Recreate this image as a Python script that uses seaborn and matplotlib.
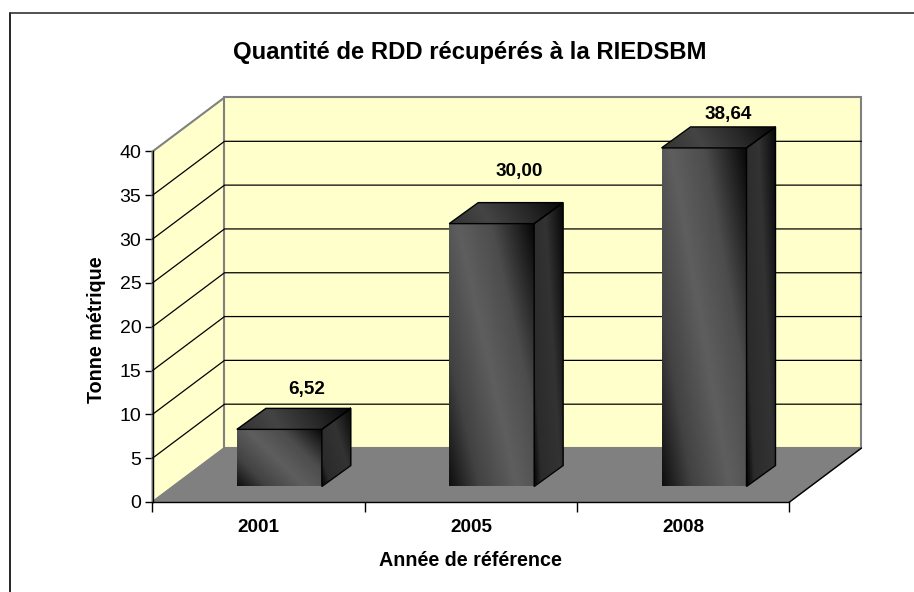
import numpy as np
import matplotlib
matplotlib.use("Agg")
import matplotlib.pyplot as plt
import seaborn as sns
from matplotlib.lines import Line2D
from matplotlib.patches import Polygon
from matplotlib.transforms import Affine2D, IdentityTransform

years = ["2001", "2005", "2008"]
tonnes = [6.52, 30.00, 38.64]
y_ticks = [0, 5, 10, 15, 20, 25, 30, 35, 40]

W, H = 914, 592
FONT = "Liberation Sans"

# 3d look, in pixels
WALL_DX, WALL_DY = 72, 54
BAR_DX, BAR_DY = 20.7, 15.5
SIDE_DX, SIDE_DY = 29, 21
label_shift = [(27, 40), (28, 52), (24, 33)]

sns.set_theme(style="white")
plt.rcParams["font.family"] = [FONT, "DejaVu Sans"]

fig = plt.figure(figsize=(W / 100, H / 100), dpi=100)
ax = fig.add_axes([152.5 / W, (H - 502) / H, 637 / W, 350.5 / H])
ax.patch.set_alpha(0)

sns.barplot(x=years, y=tonnes, width=0.4, color="black", ax=ax)
ax.set_xlim(-0.5, 2.5)
ax.set_ylim(0, 40)


def px(x, y, dx=0, dy=0):
    p = ax.transData.transform((x, y))
    return np.array([p[0] + dx, p[1] + dy])


def poly(points, face, edge, lw=1.0, z=1):
    ax.add_patch(Polygon(points, closed=True, facecolor=face, edgecolor=edge, linewidth=lw,
                         transform=IdentityTransform(), clip_on=False, zorder=z))


def shade(p0, pu, pv, slant, stops, levels, z):
    # gradient on a parallelogram, p0 = lower left
    uu, vv = np.meshgrid(np.linspace(0, 1, 80), np.linspace(0, 1, 80))
    img = np.interp(uu + slant * vv, stops, levels)
    a, b = pu - p0
    c, d = pv - p0
    aff = Affine2D.from_values(a, b, c, d, p0[0], p0[1])
    ax.imshow(img, extent=(0, 1, 0, 1), origin="lower", cmap="gray", vmin=0, vmax=1,
              transform=aff, aspect="auto", interpolation="bilinear", clip_on=False, zorder=z)


bars = list(ax.patches)

# walls and floor
x0, x1 = -0.5, 2.5
poly([px(x0, 0), px(x0, 40), px(x0, 40, WALL_DX, WALL_DY), px(x0, 0, WALL_DX, WALL_DY)], "#ffffcc", "#808080", 1.5)
poly([px(x0, 0, WALL_DX, WALL_DY), px(x0, 40, WALL_DX, WALL_DY), px(x1, 40, WALL_DX, WALL_DY), px(x1, 0, WALL_DX, WALL_DY)],
     "#ffffcc", "#808080", 1.5)
poly([px(x0, 0), px(x1, 0), px(x1, 0, WALL_DX, WALL_DY), px(x0, 0, WALL_DX, WALL_DY)], "#808080", "#808080", 1.0, 1.2)
ax.add_line(Line2D(*zip(px(x1, 0), px(x1, 0, WALL_DX, WALL_DY)), color="black", lw=1.0,
                   transform=IdentityTransform(), clip_on=False, zorder=1.5))

# gridlines, the top one is the gray wall edge
for t in y_ticks[1:-1]:
    pts = [px(x0, t), px(x0, t, WALL_DX, WALL_DY), px(x1, t, WALL_DX, WALL_DY)]
    ax.add_line(Line2D(*zip(*pts), color="black", lw=0.9, transform=IdentityTransform(),
                       clip_on=False, zorder=1.1))

# bars
shift = Affine2D().translate(BAR_DX, BAR_DY)
for bar in bars:
    bx, bw, bh = bar.get_x(), bar.get_width(), bar.get_height()
    a = px(bx, 0, BAR_DX, BAR_DY)
    b = px(bx + bw, 0, BAR_DX, BAR_DY)
    c = px(bx, bh, BAR_DX, BAR_DY)
    d = px(bx + bw, bh, BAR_DX, BAR_DY)
    off = np.array([SIDE_DX, SIDE_DY])
    shade(a, b, c, 0.7, [0, 0.35, 0.8, 1.2, 1.7], [0.06, 0.26, 0.37, 0.3, 0.03], 3)
    shade(b, b + off, d, 0.5, [0, 0.25, 0.9, 1.5], [0.02, 0.17, 0.2, 0.03], 3)
    shade(c, d, c + off, 0.5, [0, 0.5, 1.0, 1.5], [0.2, 0.27, 0.16, 0.03], 3)
    poly([b, b + off, d + off, d], "none", "black", 1.0, 3.2)
    poly([c, d, d + off, c + off], "none", "black", 1.0, 3.2)
    bar.set_transform(shift + ax.transData)
    bar.set_facecolor("none")
    bar.set_edgecolor("black")
    bar.set_linewidth(1.2)
    bar.set_clip_on(False)
    bar.set_zorder(3.4)

ax.set_xlim(-0.5, 2.5)
ax.set_ylim(0, 40)

# value labels
for i, v in enumerate(tonnes):
    sx, sy = label_shift[i]
    p = px(i, v, BAR_DX + sx, BAR_DY + sy)
    ax.text(p[0], p[1], f"{v:.2f}".replace(".", ","), transform=IdentityTransform(), ha="center", va="center",
            fontsize=13.6, fontweight="bold", color="black", zorder=5, clip_on=False)

# axes
sns.despine(ax=ax)
for s in ["left", "bottom"]:
    ax.spines[s].set_color("black")
    ax.spines[s].set_linewidth(1.0)
    ax.spines[s].set_zorder(2)
ax.set_yticks(y_ticks)
ax.set_yticklabels([str(t) for t in y_ticks], fontsize=14, color="black")
ax.tick_params(axis="y", length=6, width=1, color="black", pad=2, left=True)
ax.set_xticks([-0.5, 0.5, 1.5, 2.5])
ax.set_xticklabels([])
ax.tick_params(axis="x", which="major", length=7, width=1, color="black", bottom=True)
ax.set_xticks([0, 1, 2], minor=True)
ax.set_xticklabels(years, minor=True, fontsize=13.6, fontweight="bold", color="black")
ax.tick_params(axis="x", which="minor", length=0, pad=12.5)

fig.text(470 / W, 1 - 53 / H, "Quantité de RDD récupérés à la RIEDSBM", ha="center", va="center",
         fontsize=17.2, fontweight="bold", color="black")
fig.text(470 / W, 1 - 561 / H, "Année de référence", ha="center", va="center",
         fontsize=14.2, fontweight="bold", color="black")
fig.text(97 / W, 1 - 330 / H, "Tonne métrique", ha="center", va="center", rotation=90,
         fontsize=14.2, fontweight="bold", color="black")

# chart frame, cut by the page on two sides
fig.add_artist(Line2D([9.5 / W, 9.5 / W], [0, 1 - 13 / H], color="black", lw=1.2))
fig.add_artist(Line2D([9.5 / W, 1], [1 - 13 / H, 1 - 13 / H], color="#333333", lw=1.2))

fig.savefig("out.png", dpi=100)
